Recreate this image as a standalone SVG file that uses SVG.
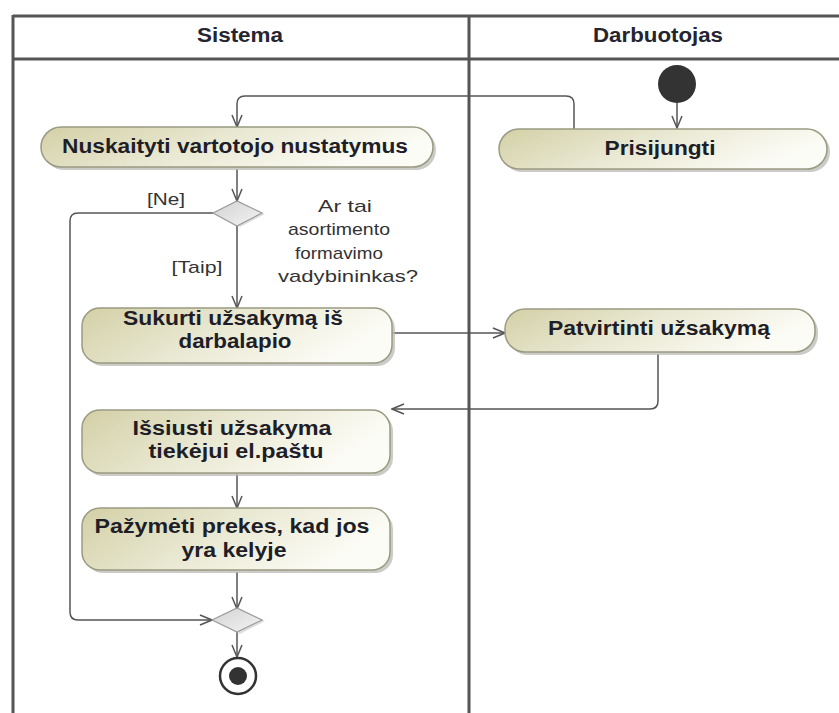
<svg xmlns="http://www.w3.org/2000/svg" width="839" height="713" viewBox="0 0 839 713">
  <defs>
    <linearGradient id="actFill" x1="0" y1="0" x2="1" y2="0.3">
      <stop offset="0" stop-color="#d3d0a6"/>
      <stop offset="0.5" stop-color="#e9e8d2"/>
      <stop offset="1" stop-color="#fcfcf6"/>
    </linearGradient>
    <linearGradient id="decFill" x1="0" y1="0" x2="1" y2="1">
      <stop offset="0" stop-color="#d2d2d2"/>
      <stop offset="1" stop-color="#f4f4f4"/>
    </linearGradient>
    <marker id="arrow" viewBox="0 0 14 12" refX="13" refY="6" markerWidth="14" markerHeight="12" markerUnits="userSpaceOnUse" orient="auto">
      <path d="M1,1 L13,6 L1,11" fill="none" stroke="#555" stroke-width="1.5"/>
    </marker>
    <style>
      .lane { stroke: #555; stroke-width: 3; fill: none; }
      .hdr { font-family: "Liberation Sans", Arial, sans-serif; font-weight: bold; font-size: 20px; fill: #252530; text-anchor: middle; }
      .act { fill: url(#actFill); stroke: #9a9a82; stroke-width: 1.5; }
      .shadow { fill: #b9b9b4; opacity: 0.75; }
      .lbl { font-family: "Liberation Sans", Arial, sans-serif; font-weight: bold; font-size: 20px; fill: #1e1e28; text-anchor: middle; }
      .guard { font-family: "Liberation Sans", Arial, sans-serif; font-size: 17px; fill: #333; text-anchor: middle; }
      .edge { stroke: #555; stroke-width: 1.5; fill: none; marker-end: url(#arrow); }
      .dec { fill: url(#decFill); stroke: #9a9a9a; stroke-width: 1.2; }
    </style>
  </defs>

  <rect width="839" height="713" fill="#fff"/>

  <!-- swimlanes -->
  <g id="lanes">
    <path class="lane" d="M13,16 H839"/>
    <path class="lane" d="M13,59 H839"/>
    <path class="lane" d="M13,15 V713"/>
    <path class="lane" d="M469,15 V713"/>
    <text class="hdr" x="240" y="42" textLength="86" lengthAdjust="spacingAndGlyphs">Sistema</text>
    <text class="hdr" x="658" y="42" textLength="130" lengthAdjust="spacingAndGlyphs">Darbuotojas</text>
  </g>

  <!-- connectors -->
  <g id="connectors">
    <path class="edge" d="M677,103 V128"/>
    <path class="edge" d="M574,129 V104 Q574,96 566,96 H245 Q237,96 237,104 V127"/>
    <path class="edge" d="M237,169 V201"/>
    <path class="edge" d="M213,213 H78 Q70,213 70,221 V612 Q70,620 78,620 H212"/>
    <path class="edge" d="M237,226 V308"/>
    <path class="edge" d="M392,333 H505"/>
    <path class="edge" d="M658,354 V401 Q658,409 650,409 H392"/>
    <path class="edge" d="M237,474 V508"/>
    <path class="edge" d="M237,572 V609"/>
    <path class="edge" d="M237,632 V657"/>
  </g>

  <g id="initial">
    <circle cx="677" cy="84" r="19" fill="#333"/>
  </g>

  <g id="prisijungti">
    <rect class="shadow" x="502" y="132" width="328" height="40" rx="20"/>
    <rect class="act" x="499" y="129" width="328" height="40" rx="20"/>
    <text class="lbl" x="660" y="155" textLength="111" lengthAdjust="spacingAndGlyphs">Prisijungti</text>
  </g>

  <g id="nuskaityti">
    <rect class="shadow" x="44" y="130" width="392" height="40" rx="20"/>
    <rect class="act" x="41" y="127" width="392" height="40" rx="20"/>
    <text class="lbl" x="235" y="153" textLength="346" lengthAdjust="spacingAndGlyphs">Nuskaityti vartotojo nustatymus</text>
  </g>

  <g id="decision">
    <path d="M216,214 L240,202 L265,214 L240,227 Z" fill="#c8c8c8" opacity="0.6"/>
    <path class="dec" d="M213,213 L237,201 L262,213 L237,226 Z"/>
    <text class="guard" x="166" y="205" textLength="38" lengthAdjust="spacingAndGlyphs">[Ne]</text>
    <text class="guard" x="197" y="273" textLength="51" lengthAdjust="spacingAndGlyphs">[Taip]</text>
    <text class="guard" x="345" y="212" textLength="54" lengthAdjust="spacingAndGlyphs">Ar tai</text>
    <text class="guard" x="339" y="235" textLength="102" lengthAdjust="spacingAndGlyphs">asortimento</text>
    <text class="guard" x="339" y="259" textLength="88" lengthAdjust="spacingAndGlyphs">formavimo</text>
    <text class="guard" x="348" y="282" textLength="140" lengthAdjust="spacingAndGlyphs">vadybininkas?</text>
  </g>

  <g id="sukurti">
    <rect class="shadow" x="85" y="311" width="310" height="55" rx="18"/>
    <rect class="act" x="82" y="308" width="310" height="55" rx="18"/>
    <text class="lbl" x="233" y="325" textLength="220" lengthAdjust="spacingAndGlyphs">Sukurti užsakymą iš</text>
    <text class="lbl" x="235" y="348" textLength="113" lengthAdjust="spacingAndGlyphs">darbalapio</text>
  </g>

  <g id="patvirtinti">
    <rect class="shadow" x="508" y="312" width="310" height="43" rx="20"/>
    <rect class="act" x="505" y="309" width="310" height="43" rx="20"/>
    <text class="lbl" x="659" y="335" textLength="222" lengthAdjust="spacingAndGlyphs">Patvirtinti užsakymą</text>
  </g>

  <g id="issiusti">
    <rect class="shadow" x="85" y="413" width="308" height="63" rx="18"/>
    <rect class="act" x="82" y="410" width="308" height="63" rx="18"/>
    <text class="lbl" x="232" y="435" textLength="199" lengthAdjust="spacingAndGlyphs">Išsiusti užsakyma</text>
    <text class="lbl" x="236" y="458" textLength="175" lengthAdjust="spacingAndGlyphs">tiekėjui el.paštu</text>
  </g>

  <g id="pazymeti">
    <rect class="shadow" x="85" y="511" width="308" height="62" rx="18"/>
    <rect class="act" x="82" y="508" width="308" height="62" rx="18"/>
    <text class="lbl" x="232" y="533" textLength="275" lengthAdjust="spacingAndGlyphs">Pažymėti prekes, kad jos</text>
    <text class="lbl" x="234" y="557" textLength="105" lengthAdjust="spacingAndGlyphs">yra kelyje</text>
  </g>

  <g id="merge">
    <path d="M215,621 L240,609 L265,621 L240,634 Z" fill="#c8c8c8" opacity="0.6"/>
    <path class="dec" d="M212,620 L237,608 L262,620 L237,632 Z"/>
  </g>

  <g id="final">
    <circle cx="238" cy="676" r="18" fill="#fff" stroke="#333" stroke-width="2.5"/>
    <circle cx="238" cy="676" r="9" fill="#333"/>
  </g>
</svg>
